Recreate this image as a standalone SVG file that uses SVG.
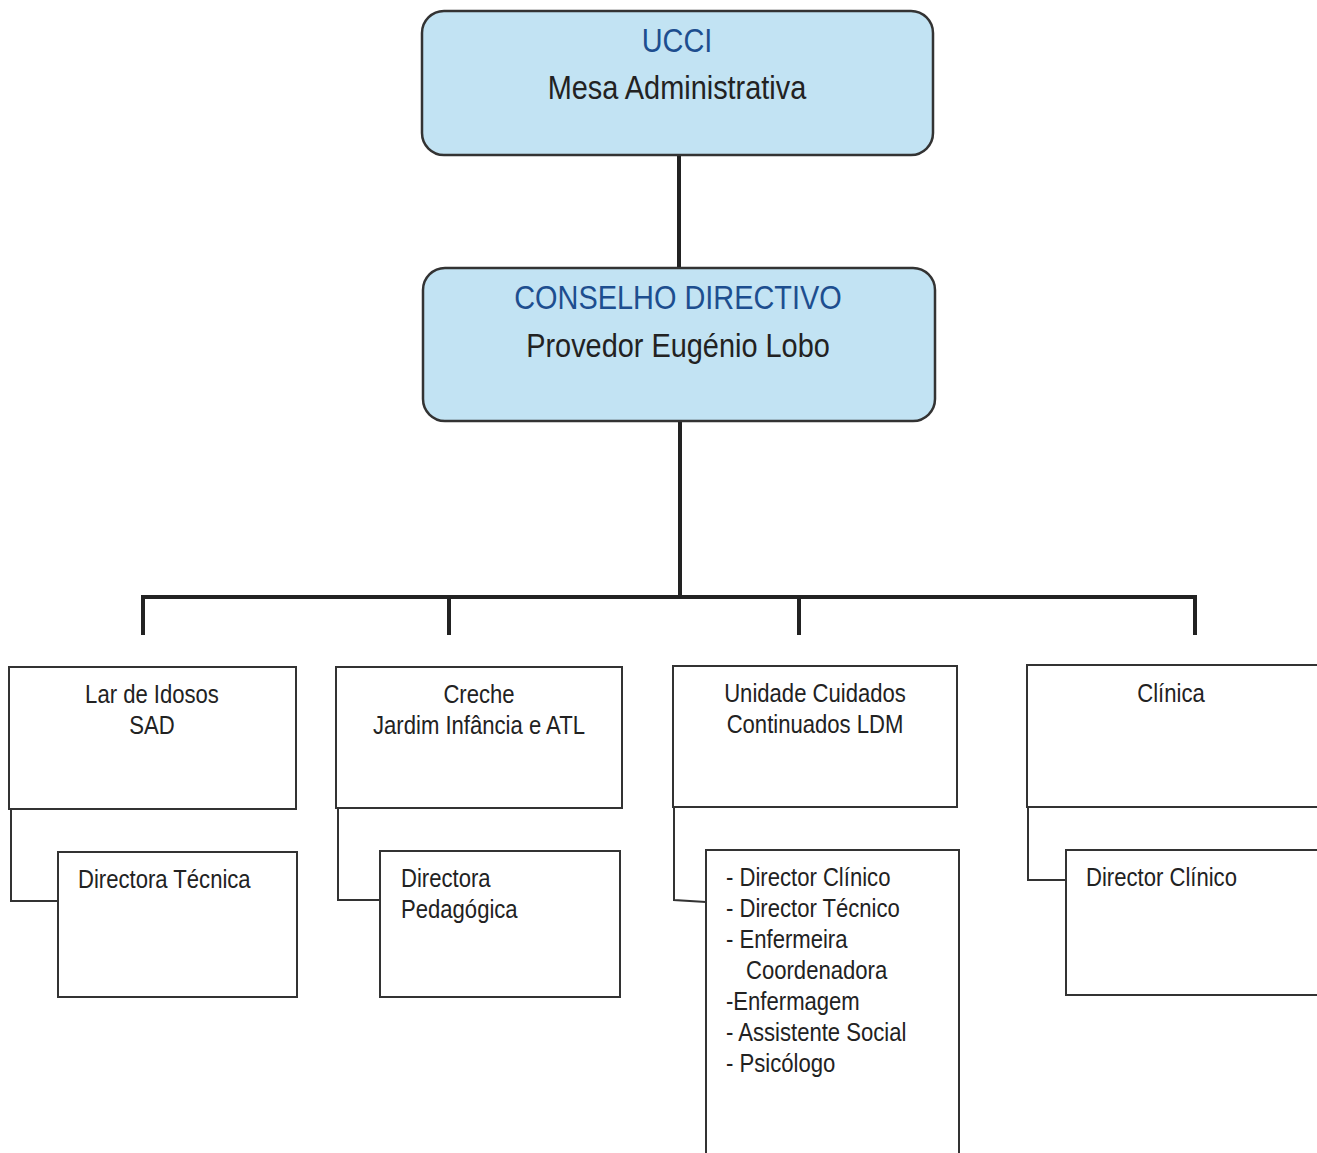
<svg xmlns="http://www.w3.org/2000/svg" width="1317" height="1153" viewBox="0 0 1317 1153">
<style>
.top{fill:#c2e3f3;stroke:#333;stroke-width:2.5}
.box{fill:#fff;stroke:#333;stroke-width:2}
.t{font-family:"Liberation Sans",Arial,sans-serif;fill:#222}
.big{font-size:34px}
.blue{fill:#1d4e8f}
.sm{font-size:26px}
.c{text-anchor:middle}
.bus{stroke:#222;stroke-width:4;fill:none}
.thin{stroke:#333;stroke-width:2;fill:none}
</style>
<rect width="1317" height="1153" fill="#fff"/>
<g id="connectors">
<path class="bus" d="M679 155V268"/>
<path class="bus" d="M680 421V596"/>
<path class="bus" d="M143 635V597H1195V635"/>
<path class="bus" d="M449 596V635"/>
<path class="bus" d="M799 596V635"/>
<path class="thin" d="M11 809V901H58"/>
<path class="thin" d="M338 808V900H380"/>
<path class="thin" d="M674 807V900L706 902"/>
<path class="thin" d="M1028 807V880H1066"/>
</g>
<g id="ucci">
<rect class="top" x="422" y="11" width="511" height="144" rx="22"/>
<text class="t big blue c" transform="translate(677 52) scale(.85 1)">UCCI</text>
<text class="t big c" transform="translate(677 99) scale(.85 1)">Mesa Administrativa</text>
</g>
<g id="conselho">
<rect class="top" x="423" y="268" width="512" height="153" rx="22"/>
<text class="t big blue c" transform="translate(678 309) scale(.85 1)">CONSELHO DIRECTIVO</text>
<text class="t big c" transform="translate(678 357) scale(.85 1)">Provedor Eugénio Lobo</text>
</g>
<g id="lar">
<rect class="box" x="9" y="667" width="287" height="142"/>
<text class="t sm c" transform="translate(152 703) scale(.85 1)">Lar de Idosos</text>
<text class="t sm c" transform="translate(152 734) scale(.85 1)">SAD</text>
</g>
<g id="creche">
<rect class="box" x="336" y="667" width="286" height="141"/>
<text class="t sm c" transform="translate(479 703) scale(.85 1)">Creche</text>
<text class="t sm c" transform="translate(479 734) scale(.85 1)">Jardim Infância e ATL</text>
</g>
<g id="ucc">
<rect class="box" x="673" y="666" width="284" height="141"/>
<text class="t sm c" transform="translate(815 702) scale(.85 1)">Unidade Cuidados</text>
<text class="t sm c" transform="translate(815 733) scale(.85 1)">Continuados LDM</text>
</g>
<g id="clinica">
<rect class="box" x="1027" y="665" width="295" height="142"/>
<text class="t sm c" transform="translate(1171 702) scale(.85 1)">Clínica</text>
</g>
<g id="dir-tecnica">
<rect class="box" x="58" y="852" width="239" height="145"/>
<text class="t sm" transform="translate(78 888) scale(.85 1)">Directora Técnica</text>
</g>
<g id="dir-pedagogica">
<rect class="box" x="380" y="851" width="240" height="146"/>
<text class="t sm" transform="translate(401 887) scale(.85 1)">Directora</text>
<text class="t sm" transform="translate(401 918) scale(.85 1)">Pedagógica</text>
</g>
<g id="ucc-staff">
<rect class="box" x="706" y="850" width="253" height="320"/>
<text class="t sm" transform="translate(726 886) scale(.85 1)">- Director Clínico</text>
<text class="t sm" transform="translate(726 917) scale(.85 1)">- Director Técnico</text>
<text class="t sm" transform="translate(726 948) scale(.85 1)">- Enfermeira</text>
<text class="t sm" transform="translate(746 979) scale(.85 1)">Coordenadora</text>
<text class="t sm" transform="translate(726 1010) scale(.85 1)">-Enfermagem</text>
<text class="t sm" transform="translate(726 1041) scale(.85 1)">- Assistente Social</text>
<text class="t sm" transform="translate(726 1072) scale(.85 1)">- Psicólogo</text>
</g>
<g id="dir-clinico">
<rect class="box" x="1066" y="850" width="256" height="145"/>
<text class="t sm" transform="translate(1086 886) scale(.85 1)">Director Clínico</text>
</g>
</svg>
